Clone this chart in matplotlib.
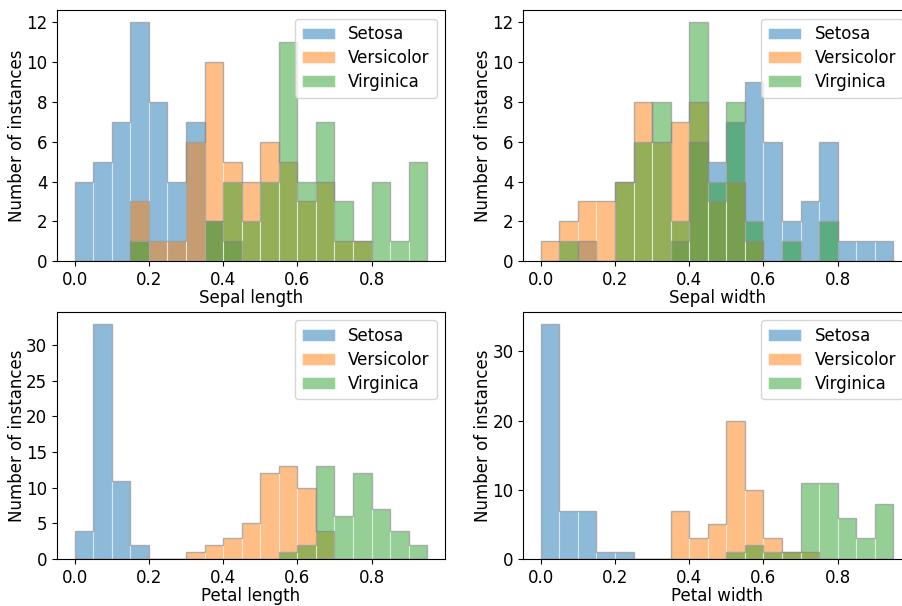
import numpy as np
import matplotlib
matplotlib.use("Agg")
import matplotlib.pyplot as plt

plt.rcParams['font.size'] = 12

species = ['Setosa', 'Versicolor', 'Virginica']
edges = np.arange(0, 1, 0.05)   # 19 bins of width 0.05, last one ends at 0.95

# counts per bin (bins 0..18)
sepal_length = {
    'Setosa':     [4, 5, 7, 12, 8, 4, 7, 2, 1, 0, 0, 0, 0, 0, 0, 0, 0, 0, 0],
    'Versicolor': [0, 0, 0, 3, 1, 1, 6, 10, 5, 4, 6, 5, 3, 4, 1, 1, 0, 0, 0],
    'Virginica':  [0, 0, 0, 1, 0, 0, 0, 2, 4, 2, 4, 11, 4, 7, 3, 1, 4, 1, 5],
}
sepal_width = {
    'Setosa':     [0, 0, 1, 0, 0, 0, 0, 1, 6, 5, 7, 9, 6, 2, 3, 6, 1, 1, 1],
    'Versicolor': [1, 2, 3, 3, 4, 8, 6, 7, 8, 3, 4, 1, 0, 0, 0, 0, 0, 0, 0],
    'Virginica':  [0, 1, 0, 0, 4, 6, 8, 2, 12, 4, 8, 2, 0, 1, 0, 2, 0, 0, 0],
}
petal_length = {
    'Setosa':     [4, 33, 11, 2, 0, 0, 0, 0, 0, 0, 0, 0, 0, 0, 0, 0, 0, 0, 0],
    'Versicolor': [0, 0, 0, 0, 0, 0, 1, 2, 3, 5, 12, 13, 10, 4, 0, 0, 0, 0, 0],
    'Virginica':  [0, 0, 0, 0, 0, 0, 0, 0, 0, 0, 0, 1, 2, 13, 6, 12, 7, 4, 2],
}
petal_width = {
    'Setosa':     [34, 7, 7, 1, 1, 0, 0, 0, 0, 0, 0, 0, 0, 0, 0, 0, 0, 0, 0],
    'Versicolor': [0, 0, 0, 0, 0, 0, 0, 7, 3, 5, 20, 10, 3, 1, 1, 0, 0, 0, 0],
    'Virginica':  [0, 0, 0, 0, 0, 0, 0, 0, 0, 0, 1, 2, 1, 1, 11, 11, 6, 3, 8],
}

features = [('Sepal length', sepal_length), ('Sepal width', sepal_width),
            ('Petal length', petal_length), ('Petal width', petal_width)]

# axes boxes in figure fractions (left, bottom, width, height)
boxes = [(0.0632, 0.569, 0.430, 0.414), (0.580, 0.569, 0.430, 0.414),
         (0.0632, 0.0775, 0.430, 0.4076), (0.580, 0.0775, 0.430, 0.4076)]

fig = plt.figure(figsize=(9.02, 6.06), dpi=100)
for (name, data), box in zip(features, boxes):
    ax = fig.add_axes(box)
    centers = edges[:-1] + 0.025
    for sp in species:
        ax.hist(centers, bins=edges, weights=data[sp], alpha=0.5,
                edgecolor='white', linewidth=0.8, label=sp)
        # grey outline around each species' histogram
        ax.hist(centers, bins=edges, weights=data[sp], histtype='step',
                color='gray', alpha=0.6, linewidth=1)
    ax.set_xlabel(name, labelpad=0)
    ax.set_ylabel('Number of instances', labelpad=0)
    ax.legend(loc='upper right', labelspacing=0.35)

fig.savefig('out.png')
